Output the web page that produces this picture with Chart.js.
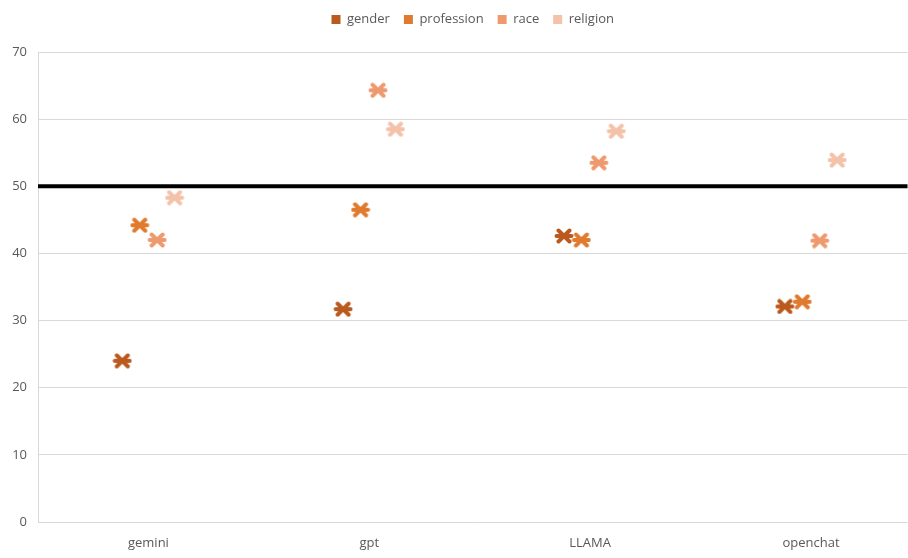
<!DOCTYPE html>
<html>
<head>
<meta charset="utf-8">
<script src="https://cdn.jsdelivr.net/npm/chart.js@4/dist/chart.umd.min.js"></script>
<style>
  html, body { margin: 0; padding: 0; background: #fff; overflow: hidden; }
  #wrap { width: 908px; height: 558px; }
</style>
</head>
<body>
<div id="wrap"><canvas id="chart"></canvas></div>
<script>
const categories = ['gemini', 'gpt', 'LLAMA', 'openchat'];
const seriesNames = ['gender', 'profession', 'race', 'religion'];
const gender = [24.0, 31.7, 42.6, 32.1];
const profession = [44.2, 46.5, 42.0, 32.8];
const race = [42.0, 64.3, 53.5, 41.9];
const religion = [48.3, 58.5, 58.2, 53.9];
const yTicks = [0, 10, 20, 30, 40, 50, 60, 70];
const threshold = 50;

const colors = ['#BA5A1F', '#E07A2E', '#EE9A6E', '#F4C1A9'];
const seriesValues = [gender, profession, race, religion];
const spread = 0.079; // category units between neighbouring series

function makeMarker(color) {
  const c = document.createElement('canvas');
  c.width = 20; c.height = 16;
  const ctx = c.getContext('2d');
  ctx.strokeStyle = color;
  ctx.lineWidth = 4;
  ctx.lineCap = 'round';
  ctx.beginPath();
  ctx.moveTo(2.5, 8); ctx.lineTo(17.5, 8);
  ctx.moveTo(4.5, 2.5); ctx.lineTo(15.5, 13.5);
  ctx.moveTo(4.5, 13.5); ctx.lineTo(15.5, 2.5);
  ctx.stroke();
  return c;
}

const thresholdLine = {
  id: 'thresholdLine',
  afterDatasetsDraw(chart) {
    const { ctx, chartArea, scales } = chart;
    const y = scales.y.getPixelForValue(threshold);
    ctx.save();
    ctx.strokeStyle = '#000';
    ctx.lineWidth = 4;
    ctx.beginPath();
    ctx.moveTo(chartArea.left, y);
    ctx.lineTo(chartArea.right, y);
    ctx.stroke();
    ctx.restore();
  },
};

// extra space under the legend, and centre it over the plot area
const legendGap = {
  id: 'legendGap',
  beforeInit(chart) {
    const fit = chart.legend.fit;
    chart.legend.fit = function () {
      fit.bind(chart.legend)();
      this.height += 16;
    };
  },
  afterLayout(chart) {
    const shift = (chart.chartArea.left + chart.chartArea.right) / 2 - chart.width / 2;
    chart.legend.left += shift;
    chart.legend.right += shift;
  },
};

const datasets = seriesNames.map((name, s) => ({
  label: name,
  data: seriesValues[s].map((v, i) => ({ x: i + (s - 1.5) * spread, y: v })),
  backgroundColor: colors[s],
  borderColor: colors[s],
  pointStyle: makeMarker(colors[s]),
  pointRadius: 0.5,
  pointHoverRadius: 0,
  pointBorderWidth: 0,
  showLine: false,
  clip: false,
}));

Chart.defaults.font.family = '"Open Sans", sans-serif';
Chart.defaults.color = '#595959';

new Chart(document.getElementById('chart'), {
  type: 'scatter',
  data: { datasets },
  options: {
    responsive: true,
    maintainAspectRatio: false,
    animation: false,
    layout: { padding: { left: 0, right: 0, top: -1, bottom: 0 } },
    plugins: {
      legend: {
        position: 'top',
        labels: {
          usePointStyle: true,
          pointStyle: 'rect',
          boxWidth: 9,
          boxHeight: 9,
          padding: 14,
          font: { size: 13 },
          color: '#595959',
        },
      },
      tooltip: { enabled: false },
    },
    scales: {
      x: {
        type: 'linear',
        min: -0.5,
        max: 3.437,
        afterBuildTicks: (axis) => { axis.ticks = categories.map((_, i) => ({ value: i })); },
        afterFit: (axis) => { axis.height = 36; },
        ticks: {
          callback: (v) => categories[v],
          font: { size: 13 },
          padding: 13,
        },
        grid: { display: false, drawTicks: false },
        border: { display: false },
      },
      y: {
        min: 0,
        max: 70,
        afterBuildTicks: (axis) => { axis.ticks = yTicks.map((v) => ({ value: v })); },
        afterFit: (axis) => { axis.width = 38; },
        ticks: { font: { size: 13 }, padding: 11 },
        grid: { color: '#d9d9d9', drawTicks: false },
        border: { display: true, color: '#d9d9d9' },
      },
    },
  },
  plugins: [thresholdLine, legendGap],
});
</script>
</body>
</html>
